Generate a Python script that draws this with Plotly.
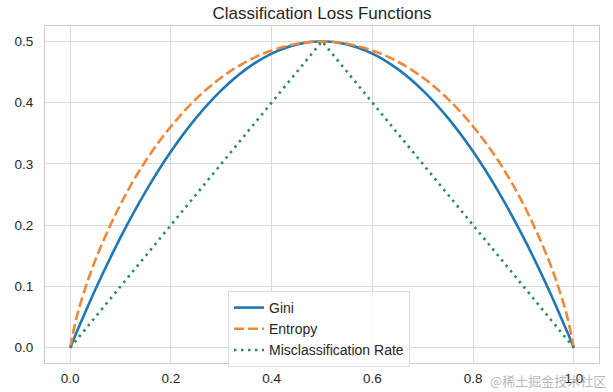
import plotly.graph_objects as go

# Probability values (x axis)
p = [0.0, 0.01, 0.02, 0.05, 0.1, 0.15, 0.2, 0.25, 0.3, 0.35, 0.4, 0.45, 0.5,
     0.55, 0.6, 0.65, 0.7, 0.75, 0.8, 0.85, 0.9, 0.95, 0.98, 0.99, 1.0]

# Series values
gini = [0.0, 0.020, 0.039, 0.095, 0.180, 0.255, 0.320, 0.375, 0.420, 0.455, 0.480, 0.495, 0.500,
        0.495, 0.480, 0.455, 0.420, 0.375, 0.320, 0.255, 0.180, 0.095, 0.039, 0.020, 0.0]
entropy = [0.0, 0.040, 0.071, 0.143, 0.234, 0.305, 0.361, 0.406, 0.441, 0.467, 0.485, 0.496, 0.500,
           0.496, 0.485, 0.467, 0.441, 0.406, 0.361, 0.305, 0.234, 0.143, 0.071, 0.040, 0.0]
misclass = [0.0, 0.01, 0.02, 0.05, 0.10, 0.15, 0.20, 0.25, 0.30, 0.35, 0.40, 0.45, 0.50,
            0.45, 0.40, 0.35, 0.30, 0.25, 0.20, 0.15, 0.10, 0.05, 0.02, 0.01, 0.0]

x_ticks = [0.0, 0.2, 0.4, 0.6, 0.8, 1.0]
x_tick_labels = ["0.0", "0.2", "0.4", "0.6", "0.8", "1.0"]
y_ticks = [0.0, 0.1, 0.2, 0.3, 0.4, 0.5]
y_tick_labels = ["0.0", "0.1", "0.2", "0.3", "0.4", "0.5"]

title = "Classification Loss Functions"
watermark = "@稀土掘金技术社区"

FONT = "Liberation Sans, Arial, sans-serif"

fig = go.Figure()
fig.add_trace(go.Scatter(x=p, y=gini, mode="lines", name="Gini",
                         line=dict(color="#1f77b4", width=2.6, shape="spline")))
fig.add_trace(go.Scatter(x=p, y=entropy, mode="lines", name="Entropy",
                         line=dict(color="#f0883a", width=2.6, dash="10px,4px", shape="spline")))
fig.add_trace(go.Scatter(x=p, y=misclass, mode="lines", name="Misclassification Rate",
                         line=dict(color="#2e8b57", width=2.6, dash="2.5px,4.5px")))

axis_common = dict(
    showgrid=True, gridcolor="#dadada", gridwidth=1, automargin=False,
    zeroline=False, showline=True, linecolor="#cccccc", linewidth=1, mirror=True,
    ticks="outside", tickcolor="rgba(0,0,0,0)",
    tickfont=dict(family=FONT, size=13.5, color="#262626"),
)

L, R, T, B = 45, 14, 26, 29
pw = 613 - L - R
ph = 392 - T - B

fig.update_layout(
    width=613, height=392,
    margin=dict(l=L, r=R, t=T, b=B, autoexpand=False),
    paper_bgcolor="white", plot_bgcolor="white",
    title=dict(text=title, x=(L + 613 - R) / 2 / 613, xanchor="center",
               y=1 - 13 / 392, yanchor="middle", yref="container",
               font=dict(family=FONT, size=17, color="#262626")),
    xaxis=dict(range=[-0.05, 1.05], tickvals=x_ticks, ticktext=x_tick_labels,
               ticklen=3, **axis_common),
    yaxis=dict(range=[-0.025, 0.525], tickvals=y_ticks, ticktext=y_tick_labels,
               ticklen=8, **axis_common),
    legend=dict(x=(228 - L) / pw, y=(392 - B - 291) / ph, xanchor="left", yanchor="top",
                bgcolor="rgba(255,255,255,0.85)", bordercolor="#dddddd", borderwidth=1,
                font=dict(family=FONT, size=14, color="#262626"),
                tracegroupgap=0, itemwidth=30),
    showlegend=True,
)

fig.add_annotation(text=watermark, xref="paper", yref="paper",
                   x=(608 - L) / pw, y=-(380 - (392 - B)) / ph, xanchor="right", yanchor="middle",
                   showarrow=False,
                   font=dict(family="Noto Sans CJK SC", size=13, color="rgba(160,160,160,0.75)"))

fig.write_html("out.html", config={"displayModeBar": False},
               post_script="document.body.style.margin='0';document.body.style.overflow='hidden';")
